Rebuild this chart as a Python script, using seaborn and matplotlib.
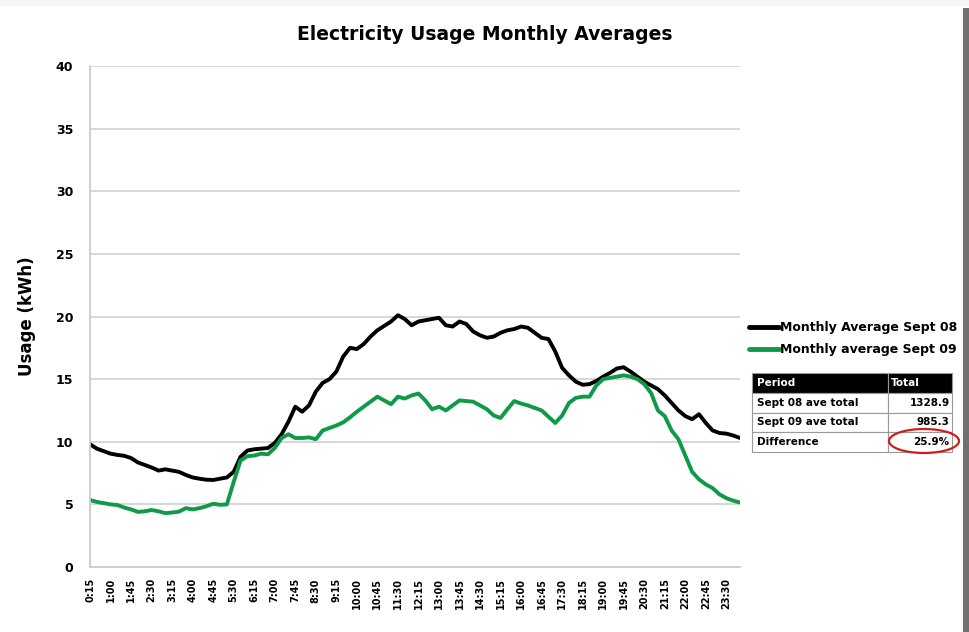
import numpy as np
import pandas as pd
import matplotlib
matplotlib.use("Agg")
import matplotlib.pyplot as plt
import seaborn as sns
from matplotlib.patches import Ellipse, Rectangle

# 15-minute intervals from 0:15 to 24:00
times = [f"{m // 60}:{m % 60:02d}" for m in range(15, 24 * 60 + 15, 15)]

sept08 = [9.8, 9.45, 9.25, 9.05, 8.95, 8.88, 8.7, 8.35, 8.15, 7.95,
          7.7, 7.8, 7.7, 7.6, 7.35, 7.15, 7.05, 6.97, 6.95, 7.05,
          7.15, 7.6, 8.8, 9.3, 9.4, 9.45, 9.5, 9.9, 10.6, 11.6,
          12.8, 12.4, 12.9, 14.0, 14.7, 15.0, 15.6, 16.8, 17.5, 17.4,
          17.8, 18.4, 18.9, 19.25, 19.6, 20.1, 19.8, 19.3, 19.6, 19.7,
          19.8, 19.9, 19.3, 19.2, 19.6, 19.4, 18.8, 18.5, 18.3, 18.4,
          18.7, 18.9, 19.0, 19.2, 19.1, 18.7, 18.3, 18.2, 17.2, 15.9,
          15.3, 14.8, 14.55, 14.6, 14.85, 15.2, 15.5, 15.85, 15.95, 15.6,
          15.2, 14.8, 14.5, 14.2, 13.7, 13.1, 12.5, 12.05, 11.8, 12.2,
          11.5, 10.9, 10.7, 10.65, 10.5, 10.3]

sept09 = [5.35, 5.2, 5.1, 5.0, 4.95, 4.75, 4.6, 4.4, 4.45, 4.55,
          4.45, 4.3, 4.35, 4.42, 4.7, 4.6, 4.7, 4.85, 5.05, 4.97,
          5.0, 6.8, 8.5, 8.85, 8.9, 9.05, 9.0, 9.5, 10.3, 10.6,
          10.3, 10.3, 10.35, 10.2, 10.9, 11.1, 11.3, 11.55, 11.95, 12.4,
          12.8, 13.2, 13.6, 13.3, 13.0, 13.6, 13.45, 13.7, 13.85, 13.3,
          12.6, 12.8, 12.5, 12.9, 13.3, 13.25, 13.2, 12.9, 12.6, 12.1,
          11.9, 12.6, 13.25, 13.05, 12.9, 12.7, 12.5, 12.0, 11.5, 12.1,
          13.1, 13.5, 13.6, 13.6, 14.5, 15.0, 15.1, 15.2, 15.3, 15.2,
          15.0, 14.6, 13.9, 12.5, 12.05, 10.9, 10.2, 8.9, 7.6, 7.0,
          6.6, 6.3, 5.8, 5.5, 5.3, 5.15]

series_names = ["Monthly Average Sept 08", "Monthly average Sept 09"]
table_rows = [["Sept 08 ave total", "1328.9"],
              ["Sept 09 ave total", "985.3"],
              ["Difference", "25.9%"]]

df = pd.DataFrame({
    "pos": list(range(len(times))) * 2,
    "usage": sept08 + sept09,
    "series": [series_names[0]] * len(times) + [series_names[1]] * len(times),
})

sns.set_style("white")
plt.rcParams["text.color"] = "black"
plt.rcParams["xtick.color"] = "black"
plt.rcParams["ytick.color"] = "black"
plt.rcParams["axes.labelcolor"] = "black"

fig = plt.figure(figsize=(9.69, 6.32), dpi=100)
ax = fig.add_axes([0.0929, 0.1028, 0.6708, 0.7928])

sns.lineplot(data=df, x="pos", y="usage", hue="series",
             palette=["black", "#0f9a48"], linewidth=2.8, ax=ax)

ax.set_xlim(0, len(times) - 1)
ax.set_ylim(0, 40)
ax.set_yticks(range(0, 41, 5))
ax.set_yticklabels([str(v) for v in range(0, 41, 5)], fontweight="bold", fontsize=9)
ax.set_xticks(range(0, len(times), 3))
ax.set_xticklabels(times[::3], rotation=90, fontsize=7, fontweight="bold")
ax.tick_params(axis="y", length=0, pad=12)
ax.tick_params(axis="x", length=0, pad=8)
ax.yaxis.grid(True, color="#d4d4d4", linewidth=1.3)
for s in ["top", "right"]:
    ax.spines[s].set_visible(False)
for s in ["left", "bottom"]:
    ax.spines[s].set_color("#cccccc")
    ax.spines[s].set_linewidth(1.3)
ax.set_xlabel("")
ax.set_ylabel("Usage (kWh)", fontsize=12, fontweight="bold", labelpad=14)
fig.text(0.5, 0.945, "Electricity Usage Monthly Averages",
         ha="center", va="center", fontsize=13.5, fontweight="bold")

leg = ax.legend(loc="upper left", bbox_to_anchor=(0.768, 0.5), bbox_transform=fig.transFigure,
                frameon=False, handlelength=2.4, handletextpad=0.05, labelspacing=0.75,
                borderaxespad=0, prop={"weight": "bold", "size": 9})
for line in leg.get_lines():
    line.set_linewidth(3.5)

# summary table
tax = fig.add_axes([752 / 969, 1 - 452 / 632, 200 / 969, 79 / 632])
tax.axis("off")
tbl = tax.table(cellText=table_rows, colLabels=["Period", "Total"],
                colWidths=[0.68, 0.32], cellLoc="left", colLoc="left",
                bbox=[0, 0, 1, 1])
tbl.auto_set_font_size(False)
for (r, c), cell in tbl.get_celld().items():
    cell.set_edgecolor("#999999")
    cell.set_linewidth(0.8)
    cell.PAD = 0.04
    cell.get_text().set_fontsize(7.5)
    cell.get_text().set_fontweight("bold")
    if r == 0:
        cell.set_facecolor("black")
        cell.get_text().set_color("white")
    elif c == 1:
        cell._loc = "right"
        cell.get_text().set_ha("right")

fig.patches.append(Ellipse((924 / 969, 1 - 441 / 632), 70 / 969, 24 / 632,
                           transform=fig.transFigure, fill=False,
                           edgecolor="#cc1f1f", linewidth=1.6))

# screenshot frame shadow
fig.patches.append(Rectangle((963 / 969, 0), 6 / 969, 1 - 8 / 632, transform=fig.transFigure,
                             facecolor="#707070", edgecolor="none"))
fig.patches.append(Rectangle((0, 1 - 6 / 632), 1, 6 / 632, transform=fig.transFigure,
                             facecolor="#f5f5f5", edgecolor="none"))

fig.savefig("out.png", dpi=100)
